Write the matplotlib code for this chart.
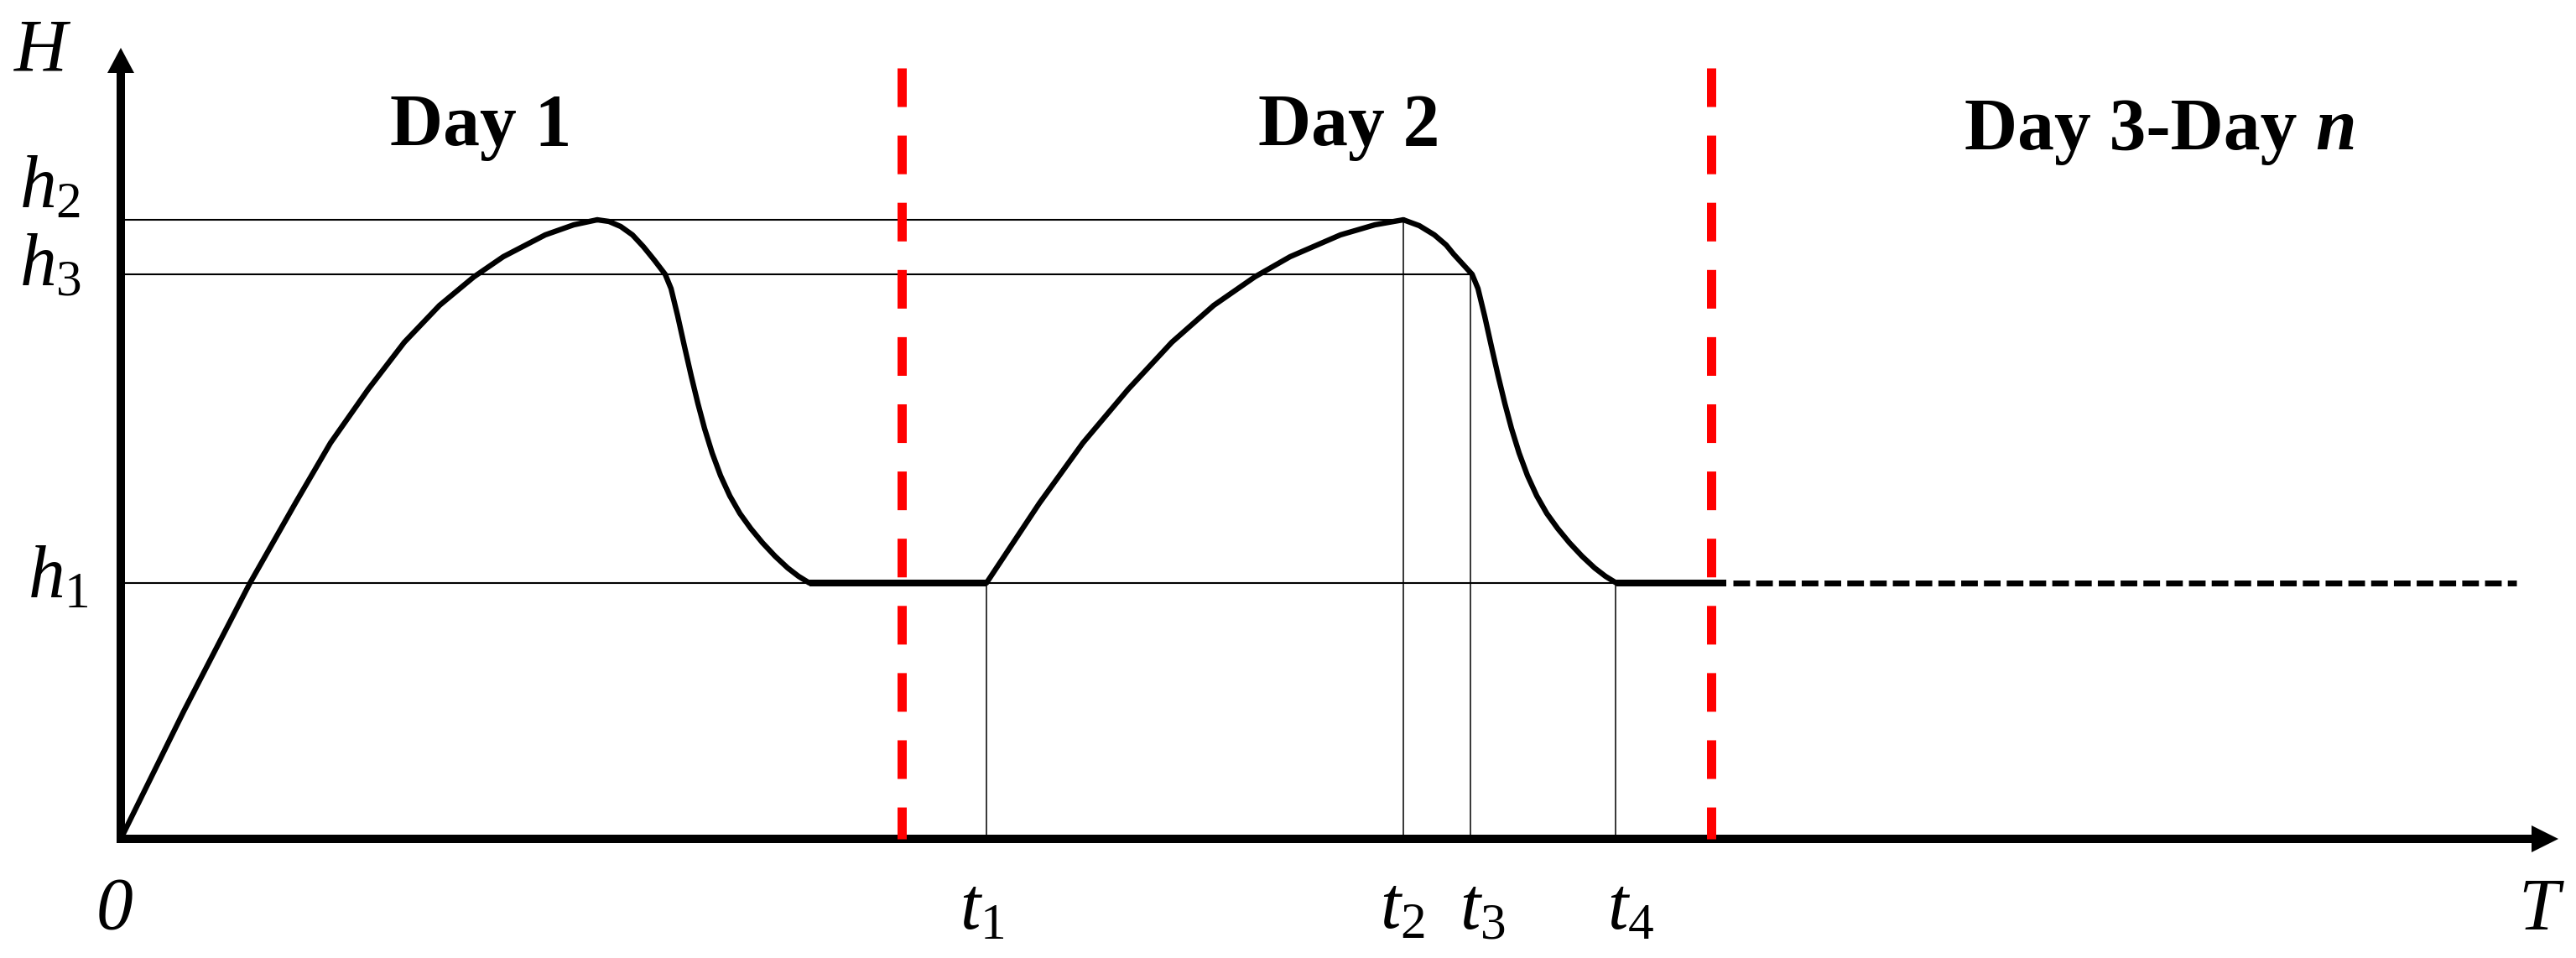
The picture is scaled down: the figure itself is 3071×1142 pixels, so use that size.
import numpy as np
import matplotlib.pyplot as plt

plt.rcParams['font.family'] = 'Liberation Serif'
plt.rcParams['mathtext.fontset'] = 'custom'
plt.rcParams['mathtext.it'] = 'Liberation Serif:italic'
plt.rcParams['mathtext.rm'] = 'Liberation Serif'

# water level H versus time T (arbitrary units)
h1, h2, h3 = 30.5, 73.8, 67.3
t1, t2, t3, t4 = 103.2, 152.9, 160.9, 178.2
day_ends = [93.1, 189.6]
t_end = 285.6

rise1_t = [0, 7.5, 15.4, 20.8, 25.0, 29.5, 33.8, 38.0, 42.1, 45.6, 50.6, 54.0, 56.8]
rise1_h = [0, 15.2, 30.5, 40.0, 47.2, 53.6, 59.2, 63.6, 67.0, 69.4, 72.0, 73.2, 73.8]
fall1_t = [56.8, 58.2, 59.6, 61.0, 62.3, 63.6, 64.9, 65.6, 66.4, 67.2, 68.0, 68.8, 69.6, 70.5,
           71.5, 72.6, 73.8, 75.1, 76.5, 78.0, 79.5, 80.8, 82.1]
fall1_h = [73.8, 73.6, 73.0, 72.0, 70.6, 69.0, 67.3, 65.6, 62.3, 58.7, 55.2, 51.9, 48.9, 46.0,
           43.3, 40.9, 38.8, 37.0, 35.3, 33.7, 32.3, 31.3, 30.5]
rise2_t = [103.2, 109.5, 114.7, 120.1, 125.3, 130.3, 135.2, 139.4, 145.4, 149.5, 152.9]
rise2_h = [30.5, 40.0, 47.2, 53.6, 59.2, 63.6, 67.0, 69.4, 72.0, 73.2, 73.8]
fall2_t = [152.9, 154.8, 156.6, 158.0, 158.9, 160.0, 161.1, 161.8, 162.6, 163.4, 164.2, 165.0,
           165.8, 166.7, 167.7, 168.8, 170.0, 171.3, 172.7, 174.2, 175.7, 177.0, 178.3]
fall2_h = [73.8, 73.1, 72.0, 70.8, 69.7, 68.5, 67.3, 65.6, 62.3, 58.7, 55.2, 51.9,
           48.9, 46.0, 43.3, 40.9, 38.8, 37.0, 35.3, 33.7, 32.3, 31.3, 30.5]
flat1_t = [82.1, t1]
flat2_t = [178.3, 191.4]
tail_t = [192.2, t_end]

fig = plt.figure(figsize=(30.71, 11.42), dpi=100)
ax = fig.add_axes([0, 0, 1, 1])
ax.set_xlim(-14.4, 292.7)
ax.set_ylim(-14.2, 100)
ax.axis('off')

# axes with arrow heads
ax.arrow(-0.5, 0, 291.1, 0, width=1.0, head_width=3.2, head_length=3.2,
         length_includes_head=True, fc='black', ec='none', zorder=3)
ax.arrow(0, -0.5, 0, 94.8, width=1.0, head_width=3.2, head_length=3.0,
         length_includes_head=True, fc='black', ec='none', zorder=3)

# thin guide lines
ax.plot([0, t2], [h2, h2], color='black', lw=1.5, zorder=2)
ax.plot([0, t3], [h3, h3], color='black', lw=1.5, zorder=2)
ax.plot([0, t4], [h1, h1], color='black', lw=1.5, zorder=2)
for tt, hh in zip([t1, t2, t3, t4], [h1, h2, h3, h1]):
    ax.plot([tt, tt], [hh, 0], color='black', lw=1.1, zorder=2)

# level curve
for xs, ys in [(rise1_t, rise1_h), (fall1_t, fall1_h), (rise2_t, rise2_h), (fall2_t, fall2_h)]:
    ax.plot(xs, ys, color='black', lw=4.6, solid_capstyle='round', solid_joinstyle='round', zorder=4)
ax.plot(flat1_t, [h1, h1], color='black', lw=5.8, solid_capstyle='butt', zorder=4)
ax.plot(flat2_t, [h1, h1], color='black', lw=5.8, solid_capstyle='butt', zorder=4)
ax.plot(tail_t, [h1, h1], color='black', lw=5.0, dashes=(2.86, 1.05), zorder=4)

# day separators
for xd in day_ends:
    ax.plot([xd, xd], [91.9, 0], color='#ff0000', lw=7.9, dashes=(4.2, 3.1), zorder=5)

# labels
fs = 63
ax.text(-12.7, 91.7, 'H', fontsize=fs, fontstyle='italic', ha='left', va='baseline')
ax.text(-12.1, 75.2, r'$h_{\mathit{2}}$', fontsize=fs, ha='left', va='baseline')
ax.text(-12.1, 66.0, r'$h_{\mathit{3}}$', fontsize=fs, ha='left', va='baseline')
ax.text(-11.1, 28.8, r'$h_{\mathit{1}}$', fontsize=fs, ha='left', va='baseline')
ax.text(-0.7, -10.7, '0', fontsize=fs, fontstyle='italic', ha='center', va='baseline')
for lab, xl in zip(['1', '2', '3', '4'], [100.0, 150.1, 159.6, 177.2]):
    ax.text(xl, -10.7, r'$t_{\mathit{%s}}$' % lab, fontsize=fs, ha='left', va='baseline')
ax.text(285.8, -10.7, 'T', fontsize=fs, fontstyle='italic', ha='left', va='baseline')

ax.text(32.1, 82.7, 'Day 1', fontsize=fs, fontweight='bold', ha='left', va='baseline')
ax.text(135.6, 82.7, 'Day 2', fontsize=fs, fontweight='bold', ha='left', va='baseline')
d3 = ax.text(219.8, 82.2, 'Day 3-Day', fontsize=fs, fontweight='bold', ha='left', va='baseline')
ax.annotate('n', xy=(1, 0), xycoords=d3, xytext=(16, 0), textcoords='offset points',
            fontsize=fs, fontweight='bold', fontstyle='italic', ha='left', va='bottom')

fig.savefig('out.png', dpi=100)
